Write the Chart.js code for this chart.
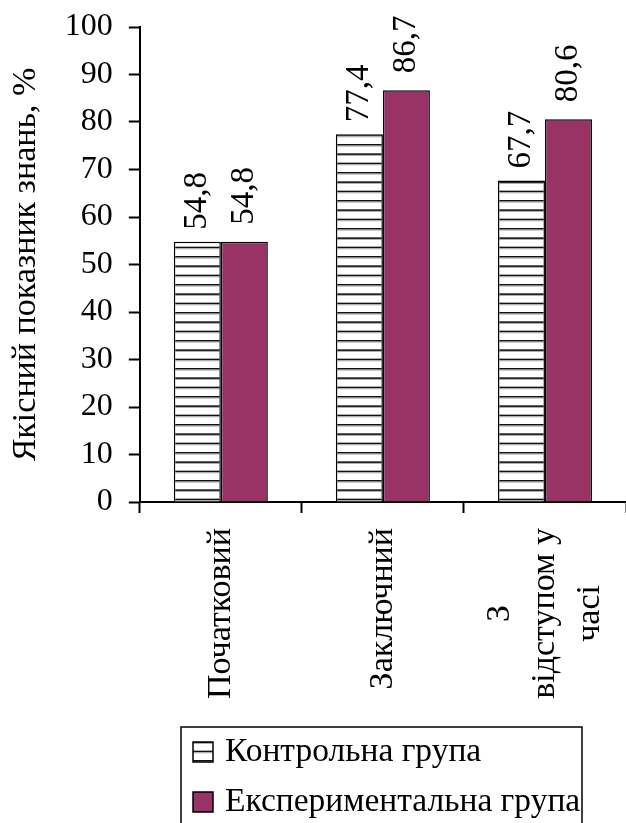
<!DOCTYPE html>
<html lang="uk">
<head>
<meta charset="utf-8">
<title>Якісний показник знань</title>
<script src="https://cdn.jsdelivr.net/npm/chart.js@4.4.1/dist/chart.umd.min.js"></script>
<style>
  html, body { margin: 0; padding: 0; background: #fff; }
  #chart { display: block; }
</style>
</head>
<body>
<canvas id="chart" width="626" height="823"></canvas>
<script>
// етапи контролю (останній підпис у три рядки)
const stages = ['Початковий', 'Заключний', ['З', 'відступом у', 'часі']];
const groupNames = ['Контрольна група', 'Експериментальна група'];
const controlValues = [54.8, 77.4, 67.7];
const experimentalValues = [54.8, 86.7, 80.6];
const yMin = 0;
const yMax = 100;
const yStep = 10;
const yTitle = 'Якісний показник знань, %';

const SERIF = "'Liberation Serif', 'Times New Roman', serif";
const PLUM = '#993366';

// горизонтальне штрихування для контрольної групи
function makeStripes() {
    const tile = document.createElement('canvas');
    tile.width = 8;
    tile.height = 28;
    const c = tile.getContext('2d');
    c.fillStyle = '#fff';
    c.fillRect(0, 0, 8, 28);
    for (let k = 0; k < 3; k++) {
        const y = k * 28 / 3;
        c.fillStyle = '#111';
        c.fillRect(0, y, 8, 1.6);
        c.fillStyle = '#aaa';
        c.fillRect(0, y + 1.6, 8, 1);
    }
    const pattern = c.createPattern(tile, 'repeat');
    pattern.setTransform(new DOMMatrix().translate(0, 4));
    return pattern;
}

// значення над стовпцями, повернуті на 90°
const barValueLabels = {
    id: 'barValueLabels',
    afterDatasetsDraw(chart, args, opts) {
        const ctx = chart.ctx;
        ctx.save();
        ctx.font = opts.font;
        ctx.fillStyle = '#000';
        ctx.textAlign = 'left';
        ctx.textBaseline = 'middle';
        chart.data.datasets.forEach((ds, di) => {
            chart.getDatasetMeta(di).data.forEach((bar, i) => {
                const text = ds.data[i].toFixed(1).replace('.', ',');
                ctx.save();
                ctx.translate(bar.x, bar.y - opts.gaps[di]);
                ctx.rotate(-Math.PI / 2);
                ctx.fillText(text, 0, 0);
                ctx.restore();
            });
        });
        ctx.restore();
    }
};

// підписи категорій: вертикально, рядки центровані між собою
const stageLabels = {
    id: 'stageLabels',
    afterDraw(chart, args, opts) {
        const ctx = chart.ctx;
        const xScale = chart.scales.x;
        ctx.save();
        ctx.font = opts.font;
        ctx.fillStyle = '#000';
        ctx.textAlign = 'center';
        ctx.textBaseline = 'middle';
        xScale.getLabels().forEach((label, i) => {
            const lines = [].concat(label);
            const widest = Math.max(...lines.map(l => ctx.measureText(l).width));
            ctx.save();
            ctx.translate(xScale.getPixelForValue(i), xScale.top + opts.offset + widest / 2);
            ctx.rotate(-Math.PI / 2);
            lines.forEach((line, k) => {
                ctx.fillText(line, 0, (k - (lines.length - 1) / 2) * opts.lineHeight);
            });
            ctx.restore();
        });
        ctx.restore();
    }
};

// легенда в рамці під графіком
const boxedLegend = {
    id: 'boxedLegend',
    afterDraw(chart, args, opts) {
        const ctx = chart.ctx;
        ctx.save();
        ctx.strokeStyle = '#000';
        ctx.lineWidth = 1.5;
        ctx.strokeRect(opts.x, opts.y, opts.width, opts.height);
        ctx.font = opts.font;
        ctx.textAlign = 'left';
        ctx.textBaseline = 'middle';
        chart.data.datasets.forEach((ds, i) => {
            const cy = opts.y + opts.firstRow + i * opts.rowGap;
            const s = opts.marker;
            ctx.fillStyle = ds.backgroundColor;
            ctx.fillRect(opts.x + 12, cy - s / 2, s, s);
            ctx.lineWidth = 1.5;
            ctx.strokeRect(opts.x + 12, cy - s / 2, s, s);
            ctx.fillStyle = '#000';
            ctx.fillText(ds.label, opts.x + 44, cy);
        });
        ctx.restore();
    }
};

const ctx = document.getElementById('chart').getContext('2d');

new Chart(ctx, {
    type: 'bar',
    data: {
        labels: stages,
        datasets: [
            {
                label: groupNames[0],
                data: controlValues,
                backgroundColor: makeStripes(),
                borderColor: '#000',
                borderWidth: 1.5,
                categoryPercentage: 0.58,
                barPercentage: 1
            },
            {
                label: groupNames[1],
                data: experimentalValues,
                backgroundColor: PLUM,
                borderColor: '#000',
                borderWidth: 1.5,
                categoryPercentage: 0.58,
                barPercentage: 1
            }
        ]
    },
    options: {
        responsive: false,
        animation: false,
        layout: {
            padding: { left: 2, right: 0, top: 27, bottom: 310 }
        },
        plugins: {
            legend: { display: false },
            tooltip: { enabled: false },
            barValueLabels: { font: `33px ${SERIF}`, gaps: [12, 17] },
            stageLabels: { font: `34px ${SERIF}`, offset: 26, lineHeight: 45 },
            boxedLegend: {
                font: `33.5px ${SERIF}`,
                x: 181, y: 727, width: 401, height: 200,
                firstRow: 25, rowGap: 50, marker: 20
            }
        },
        scales: {
            x: {
                grid: {
                    display: true,
                    drawOnChartArea: false,
                    drawTicks: true,
                    tickLength: 11,
                    tickWidth: 2,
                    tickColor: '#000'
                },
                border: { display: true, color: '#000', width: 2 },
                ticks: { display: false }
            },
            y: {
                min: yMin,
                max: yMax,
                // верх осі задається відступом layout, а не висотою підпису
                afterFit(scale) {
                    scale.paddingTop = 0;
                    scale.paddingBottom = 0;
                },
                ticks: {
                    stepSize: yStep,
                    padding: 16,
                    color: '#000',
                    font: { family: SERIF, size: 32 }
                },
                grid: {
                    display: true,
                    drawOnChartArea: false,
                    drawTicks: true,
                    tickLength: 11,
                    tickWidth: 2,
                    tickColor: '#000'
                },
                border: { display: true, color: '#000', width: 2 },
                title: {
                    display: true,
                    text: yTitle,
                    color: '#000',
                    font: { family: SERIF, size: 34 },
                    padding: { top: 4, bottom: 2 }
                }
            }
        }
    },
    plugins: [barValueLabels, stageLabels, boxedLegend]
});
</script>
</body>
</html>
